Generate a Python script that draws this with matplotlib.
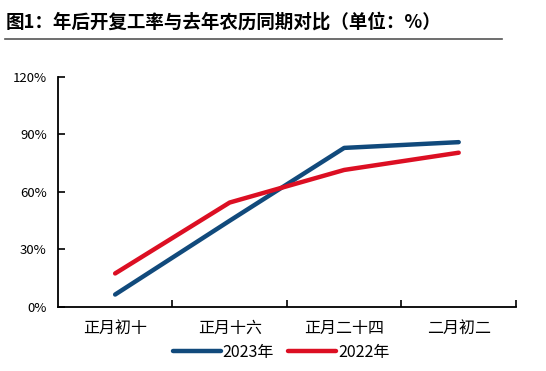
import matplotlib
matplotlib.use('Agg')
import matplotlib.pyplot as plt
from matplotlib.ticker import PercentFormatter

plt.rcParams['font.family'] = ['Noto Sans CJK SC', 'DejaVu Sans']

categories = ['正月初十', '正月十六', '正月二十四', '二月初二']
rate_2023 = [6.5, 45, 83, 86]
rate_2022 = [17.5, 54.5, 71.5, 80.5]
y_ticks = [0, 30, 60, 90, 120]

fig = plt.figure(figsize=(5.46, 3.71), dpi=100)
ax = fig.add_axes([0.106, 0.1725, 0.839, 0.62])

x = range(len(categories))
ax.plot(x, rate_2023, color='#114a7c', lw=3.2, solid_capstyle='round', label='2023年')
ax.plot(x, rate_2022, color='#dc0f23', lw=3.2, solid_capstyle='round', label='2022年')

ax.set_xlim(-0.5, 3.5)
ax.set_ylim(0, 120)
ax.set_yticks(y_ticks)
ax.yaxis.set_major_formatter(PercentFormatter(decimals=0))
ax.set_xticks([0.5, 1.5, 2.5, 3.5])
ax.set_xticklabels([])
ax.set_xticks(list(x), minor=True)
ax.set_xticklabels(categories, minor=True, fontsize=11.5)
ax.tick_params(axis='x', which='minor', length=0, pad=9)
ax.tick_params(axis='x', which='major', direction='in', length=5, width=1.2)
ax.tick_params(axis='y', direction='in', length=5, width=1.2, labelsize=9.5, pad=8)
for s in ['top', 'right']:
    ax.spines[s].set_visible(False)
for s in ['left', 'bottom']:
    ax.spines[s].set_linewidth(1.3)

fig.legend(loc='center', bbox_to_anchor=(0.515, 0.05), ncol=2, frameon=False,
           fontsize=11.5, handlelength=3.0, handletextpad=0.1, columnspacing=0.9)

fig.text(0.01, 0.94, '图1：年后开复工率与去年农历同期对比（单位：%）', fontsize=13.3,
         fontweight='bold', ha='left', va='center')
fig.add_artist(plt.Line2D([0.01, 0.92], [0.895, 0.895], color='#555555', lw=1.2))

fig.savefig('out.png', dpi=100)
